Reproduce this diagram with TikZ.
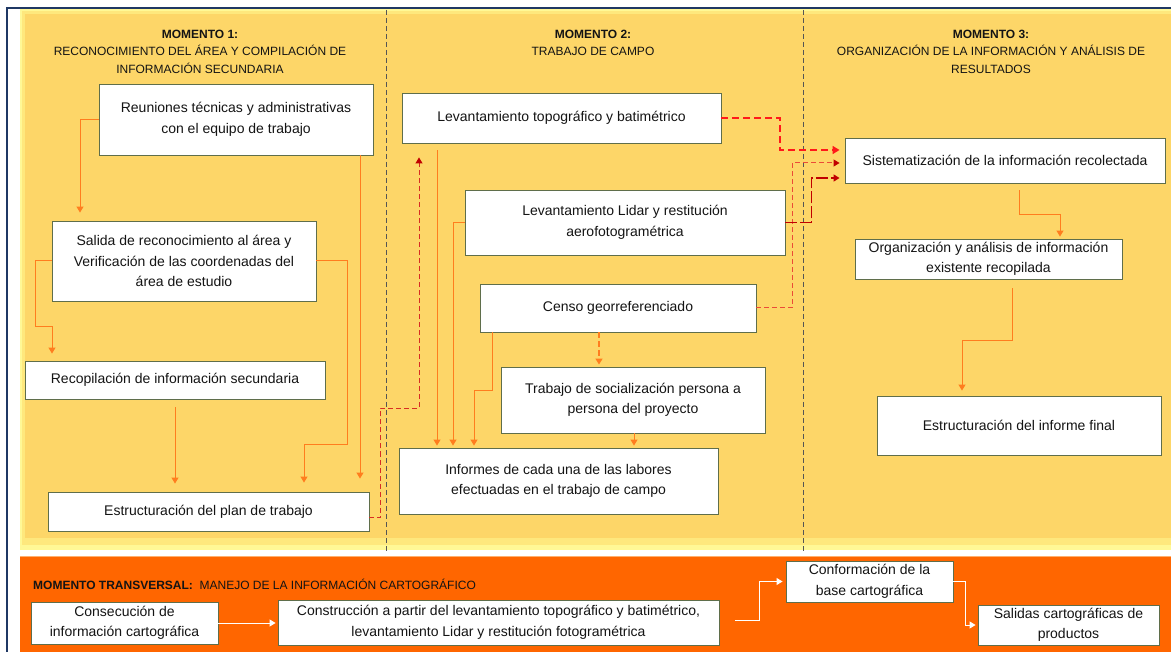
\documentclass[tikz,border=0pt]{standalone}
\usepackage{fontspec}
\setmainfont{Liberation Sans}
\usetikzlibrary{arrows.meta,calc}
\definecolor{ybg}{RGB}{253,214,104}
\definecolor{ylight}{RGB}{255,248,150}
\definecolor{ymid}{RGB}{254,232,125}
\definecolor{oband}{RGB}{255,102,0}
\definecolor{olight}{RGB}{255,175,110}
\definecolor{navy}{RGB}{31,56,100}
\definecolor{boxline}{RGB}{95,110,75}
\definecolor{oline}{RGB}{255,125,30}
\definecolor{sepc}{RGB}{85,85,85}
\definecolor{redA}{RGB}{255,25,25}
\definecolor{redB}{RGB}{235,75,55}
\definecolor{redC}{RGB}{192,0,0}
\definecolor{redD}{RGB}{215,45,35}
\definecolor{txt}{RGB}{20,20,20}
\begin{document}
\begin{tikzpicture}[x=1pt,y=-1pt,
  box/.style={draw=boxline, line width=0.9pt, fill=white, align=center, text=txt,
    font=\fontsize{14}{20.5}\selectfont, inner sep=2pt},
  head/.style={align=center, text=txt, font=\fontsize{12}{17.5}\selectfont, inner sep=0pt},
  tipo/.style={-{Triangle[width=7pt,length=6pt]}},
  oarr/.style={draw=oline, line width=1pt, tipo},
  warr/.style={draw=white, line width=1pt, tipo},
  sepline/.style={draw=sepc, line width=0.8pt, dash pattern=on 5pt off 3pt},
  rA/.style={draw=redA, line width=1.6pt, dash pattern=on 7pt off 4pt, -{Triangle[width=8pt,length=7pt]}},
  rB/.style={draw=redB, line width=1pt, dash pattern=on 5pt off 3pt, -{Triangle[width=7pt,length=6pt,color=redC]}},
  rC/.style={draw=redC, line width=1.6pt, dash pattern=on 12pt off 3pt, -{Triangle[width=7pt,length=6pt]}},
  rD/.style={draw=redD, line width=1pt, dash pattern=on 5pt off 3pt, -{Triangle[width=7pt,length=6pt,color=redC]}}
]
\useasboundingbox (0,0) rectangle (1171,652);
\fill[white] (0,0) rectangle (1171,652);
% yellow area with light glow
\fill[ylight] (20,9) rectangle (1171,550);
\fill[ymid] (22,11) rectangle (1171,545);
\fill[ybg] (25,14) rectangle (1171,538);
% orange band
\fill[oband] (20,556) rectangle (1171,652);
\draw[olight, line width=1pt] (20,556.5) -- (1171,556.5);
% frame
\draw[navy, line width=2.2pt] (7,652) -- (7,8) -- (1171,8);
% separators
\draw[sepline] (386,10) -- (386,553);
\draw[sepline] (803.5,10) -- (803.5,553);

% headers
\node[head] (h1) at (200,51.5) {\textbf{MOMENTO 1:}\\RECONOCIMIENTO DEL ÁREA Y COMPILACIÓN DE\\INFORMACIÓN SECUNDARIA};
\node[head] (h2) at (593,43) {\textbf{MOMENTO 2:}\\TRABAJO DE CAMPO};
\node[head] (h3) at (991,51.5) {\textbf{MOMENTO 3:}\\ORGANIZACIÓN DE LA INFORMACIÓN Y ANÁLISIS DE\\RESULTADOS};
\node[head, anchor=west] (h4) at (33,584.5) {\textbf{MOMENTO TRANSVERSAL:}\ \ MANEJO DE LA INFORMACIÓN CARTOGRÁFICO};

% boxes moment 1
\node[box, minimum width=274pt, minimum height=71pt] (reu) at (236,119.5) {Reuniones técnicas y administrativas\\con el equipo de trabajo};
\node[box, minimum width=264pt, minimum height=80pt] (sal) at (184,261) {Salida de reconocimiento al área y\\Verificación de las coordenadas del\\área de estudio};
\node[box, minimum width=300pt, minimum height=38pt] (rec) at (175,380) {Recopilación de información secundaria};
\node[box, minimum width=321pt, minimum height=39pt] (plan) at (208.5,511.5) {Estructuración del plan de trabajo};
% boxes moment 2
\node[box, minimum width=319pt, minimum height=50pt] (topo) at (561.5,118) {Levantamiento topográfico y batimétrico};
\node[box, minimum width=320pt, minimum height=65pt] (lidar) at (625,222.5) {Levantamiento Lidar y restitución\\aerofotogramétrica};
\node[box, minimum width=276pt, minimum height=48pt] (censo) at (618,308) {Censo georreferenciado};
\node[box, minimum width=264pt, minimum height=66pt] (soc) at (633,400) {Trabajo de socialización persona a\\persona del proyecto};
\node[box, minimum width=319pt, minimum height=66pt] (inf) at (558.5,481) {Informes de cada una de las labores\\efectuadas en el trabajo de campo};
% boxes moment 3
\node[box, minimum width=320pt, minimum height=45pt] (sis) at (1005,160.5) {Sistematización de la información recolectada};
\node[box, minimum width=267pt, minimum height=40pt] (org) at (988.5,259) {Organización y análisis de información\\existente recopilada};
\node[box, minimum width=284pt, minimum height=59pt] (fin) at (1019,425.5) {Estructuración del informe final};
% boxes transversal
\node[box, minimum width=187pt, minimum height=42pt] (cons) at (124.5,623) {Consecución de\\información cartográfica};
\node[box, minimum width=441pt, minimum height=45pt] (constr) at (498.5,622.5) {Construcción a partir del levantamiento topográfico y batimétrico,\\levantamiento Lidar y restitución fotogramétrica};
\node[box, minimum width=167pt, minimum height=41pt] (conf) at (869.5,581.5) {Conformación de la\\base cartográfica};
\node[box, minimum width=181pt, minimum height=40pt] (sal2) at (1068.5,625) {Salidas cartográficas de\\productos};

% connectors moment 1
\draw[oarr, shorten >=8pt] (reu.west) -| ($(sal.north)+(-104,0)$);
\draw[oarr, shorten >=13pt] ($(reu.south)+(124,0)$) -- ($(plan.north)+(151.5,0)$);
\draw[oarr, shorten >=7pt] (sal.west) -- ++(-16,0) -- ++(0,66) -| ($(rec.north)+(-123,0)$);
\draw[oarr, shorten >=9pt] (sal.east) -- ++(31,0) -- ++(0,184) -| ($(plan.north)+(95.5,0)$);
\draw[oarr, shorten >=8pt] ($(rec.south)+(0,8)$) -- ($(plan.north)+(-33.5,0)$);
\draw[rD, shorten >=14pt] ($(plan.east)+(0,6)$) -- ++(11,0) -- ++(0,-109) -| ($(topo.south)+(-142.5,0)$);
% connectors moment 2
\draw[oarr, shorten >=2pt] ($(topo.south)+(-124.5,7)$) -- ($(inf.north)+(-121.5,0)$);
\draw[oarr, shorten >=2pt] (lidar.west) -| ($(inf.north)+(-105.5,0)$);
\draw[oarr, shorten >=2pt] ($(censo.south)+(-126,0)$) -- ++(0,58) -| ($(inf.north)+(-84.5,0)$);
\draw[oarr, line width=1.6pt, dash pattern=on 6pt off 3pt, shorten >=2pt] ($(censo.south)+(-19,0)$) -- ($(soc.north)+(-34,0)$);
\draw[oarr, shorten >=2pt] ($(soc.south)+(1,0)$) -- ($(inf.north)+(75.5,0)$);
% red connectors to moment 3
\draw[rA, shorten >=5pt] (topo.east) -- ++(58.5,0) |- ($(sis.west)+(0,-10.5)$);
\draw[rB, shorten >=5pt] (censo.east) -- ++(36,0) |- ($(sis.west)+(0,2.5)$);
\draw[rC, shorten >=5pt] (lidar.east) -- ++(26,0) |- ($(sis.west)+(0,17.5)$);
% connectors moment 3
\draw[oarr, shorten >=2pt] ($(sis.south)+(14,7)$) -- ++(0,24) -| ($(org.north)+(71.5,0)$);
\draw[oarr, shorten >=5pt] ($(org.south)+(23.5,9)$) -- ++(0,52) -| ($(fin.north)+(-57,0)$);
% transversal
\draw[warr, shorten >=2pt] (cons.east) -- (cons.east -| constr.west);
\draw[warr, shorten >=3pt] ($(constr.east)+(16,-2.5)$) -- ++(24,0) |- (conf.west);
\draw[warr, shorten >=2pt] (conf.east) -- ++(12,0) |- (sal2.west);
\end{tikzpicture}
\end{document}
